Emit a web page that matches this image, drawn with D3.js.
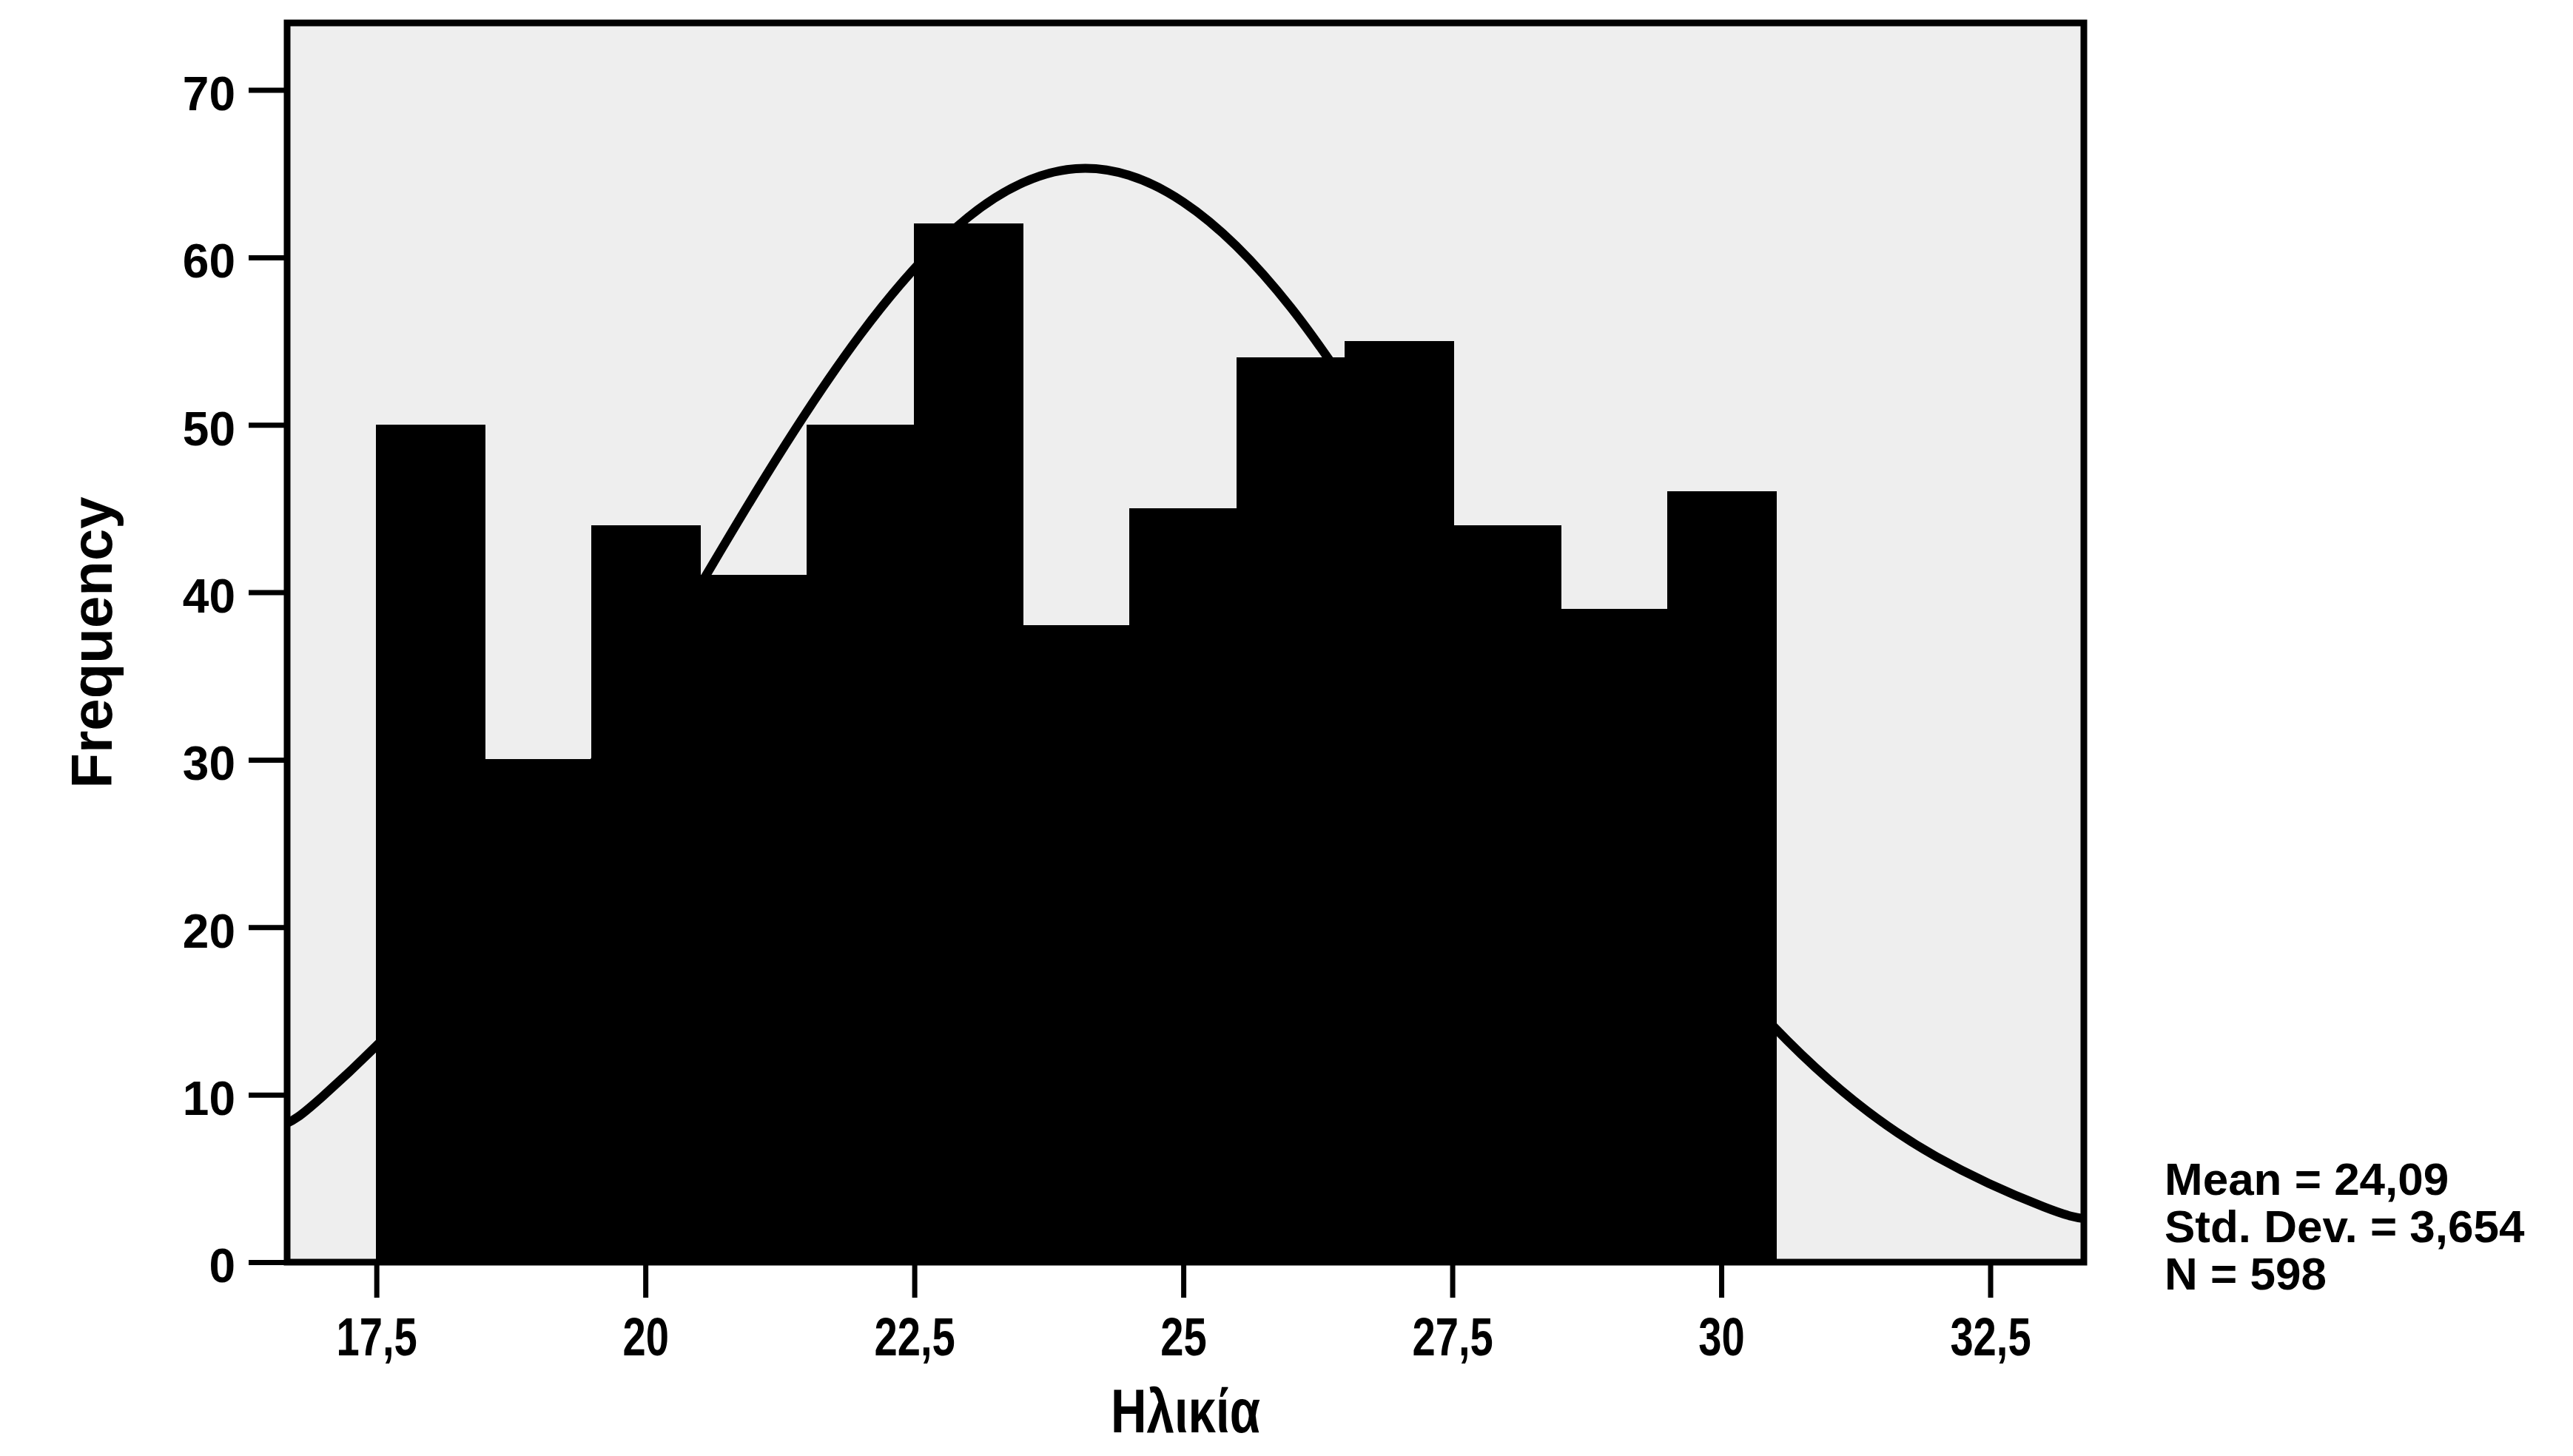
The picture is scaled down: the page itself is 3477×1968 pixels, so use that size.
<!DOCTYPE html>
<html>
<head>
<meta charset="utf-8">
<script src="https://cdn.jsdelivr.net/npm/d3@7"></script>
<style>
  html, body { margin: 0; padding: 0; background: #ffffff; }
  svg { display: block; }
</style>
</head>
<body>
<script>
// ---- data ----
const ages = [18, 19, 20, 21, 22, 23, 24, 25, 26, 27, 28, 29, 30];
const counts = [50, 30, 44, 41, 50, 62, 38, 45, 54, 55, 44, 39, 46];
const binWidth = 1;
const xTicks = [17.5, 20, 22.5, 25, 27.5, 30, 32.5];
const yTicks = [0, 10, 20, 30, 40, 50, 60, 70];
// fitted normal curve
const curveX = [16.67, 17, 18, 19, 20, 21, 22, 23, 24, 25, 26, 27, 28, 29, 30, 31, 32, 33, 33.37];
const curveY = [8.3, 9.9, 16.3, 24.7, 34.9, 45.7, 55.4, 62.4, 65.3, 63.3, 57.0, 47.5, 36.8, 26.5, 17.6, 10.9, 6.3, 3.3, 2.6];
const statsLines = ["Mean = 24,09", "Std. Dev. = 3,654", "N = 598"];
const xTitle = "Ηλικία";
const yTitle = "Frequency";

// ---- layout ----
const W = 3477, H = 1968;
const L = 388, R = 2816, T = 31, B = 1706;

const svg = d3.select("body").append("svg")
  .attr("width", W).attr("height", H);

const x = d3.scaleLinear().domain([16.67, 33.37]).range([L, R]);
const y = d3.scaleLinear().domain([0, 74]).range([B, T]);
const fmt = d => String(d).replace(".", ",");

// plot background
svg.append("rect")
  .attr("x", L).attr("y", T).attr("width", R - L).attr("height", B - T)
  .attr("fill", "#eeeeee");

// normal curve (behind bars)
const line = d3.line().x(d => x(d[0])).y(d => y(d[1])).curve(d3.curveNatural);
svg.append("path")
  .datum(curveX.map((v, i) => [v, curveY[i]]))
  .attr("d", line)
  .attr("fill", "none")
  .attr("stroke", "#000")
  .attr("stroke-width", 12);

// bars
svg.append("g").selectAll("rect")
  .data(ages)
  .join("rect")
  .attr("x", (d) => x(d - binWidth / 2))
  .attr("width", (d) => x(d + binWidth / 2) - x(d - binWidth / 2) + 1.5)
  .attr("y", (d, i) => y(counts[i]))
  .attr("height", (d, i) => y(0) - y(counts[i]))
  .attr("fill", "#000")
  .attr("stroke", "#000")
  .attr("stroke-width", 1)
  .attr("shape-rendering", "crispEdges");

// frame
svg.append("rect")
  .attr("x", L).attr("y", T).attr("width", R - L).attr("height", B - T)
  .attr("fill", "none").attr("stroke", "#000").attr("stroke-width", 9);

// y axis
const yAxis = d3.axisLeft(y).tickValues(yTicks).tickSize(48).tickPadding(18).tickFormat(fmt);
const gy = svg.append("g").attr("transform", `translate(${L - 4},0)`).call(yAxis);
gy.select(".domain").remove();
gy.selectAll(".tick line").attr("stroke", "#000").attr("stroke-width", 7);
gy.selectAll(".tick text")
  .attr("fill", "#000")
  .style("font-family", "'Liberation Sans', Arial, sans-serif")
  .style("font-weight", "bold")
  .style("font-size", "64px")
  .attr("dy", "0.42em");

// x axis
const xAxis = d3.axisBottom(x).tickValues(xTicks).tickSize(44).tickPadding(0).tickFormat(fmt);
const gx = svg.append("g").attr("transform", `translate(0,${B + 4})`).call(xAxis);
gx.select(".domain").remove();
gx.selectAll(".tick line").attr("stroke", "#000").attr("stroke-width", 7);
gx.selectAll(".tick text").remove();
gx.selectAll(".tick").append("text")
  .attr("transform", "translate(0,122) scale(0.78,1)")
  .attr("text-anchor", "middle")
  .attr("fill", "#000")
  .style("font-family", "'Liberation Sans', Arial, sans-serif")
  .style("font-weight", "bold")
  .style("font-size", "72px")
  .text(fmt);

// axis titles
svg.append("text")
  .attr("transform", `translate(${(L + R) / 2},1936) scale(0.8,1)`)
  .attr("text-anchor", "middle")
  .attr("fill", "#000")
  .style("font-family", "'Liberation Sans', Arial, sans-serif")
  .style("font-weight", "bold")
  .style("font-size", "84px")
  .text(xTitle);

svg.append("text")
  .attr("transform", `translate(151,${(T + B) / 2}) rotate(-90)`)
  .attr("text-anchor", "middle")
  .attr("fill", "#000")
  .style("font-family", "'Liberation Sans', Arial, sans-serif")
  .style("font-weight", "bold")
  .style("font-size", "78px")
  .text(yTitle);

// stats
svg.append("g").selectAll("text")
  .data(statsLines)
  .join("text")
  .attr("x", 2925)
  .attr("y", (d, i) => 1615 + i * 64)
  .attr("fill", "#000")
  .style("font-family", "'Liberation Sans', Arial, sans-serif")
  .style("font-weight", "bold")
  .style("font-size", "62px")
  .text(d => d);
</script>
</body>
</html>
